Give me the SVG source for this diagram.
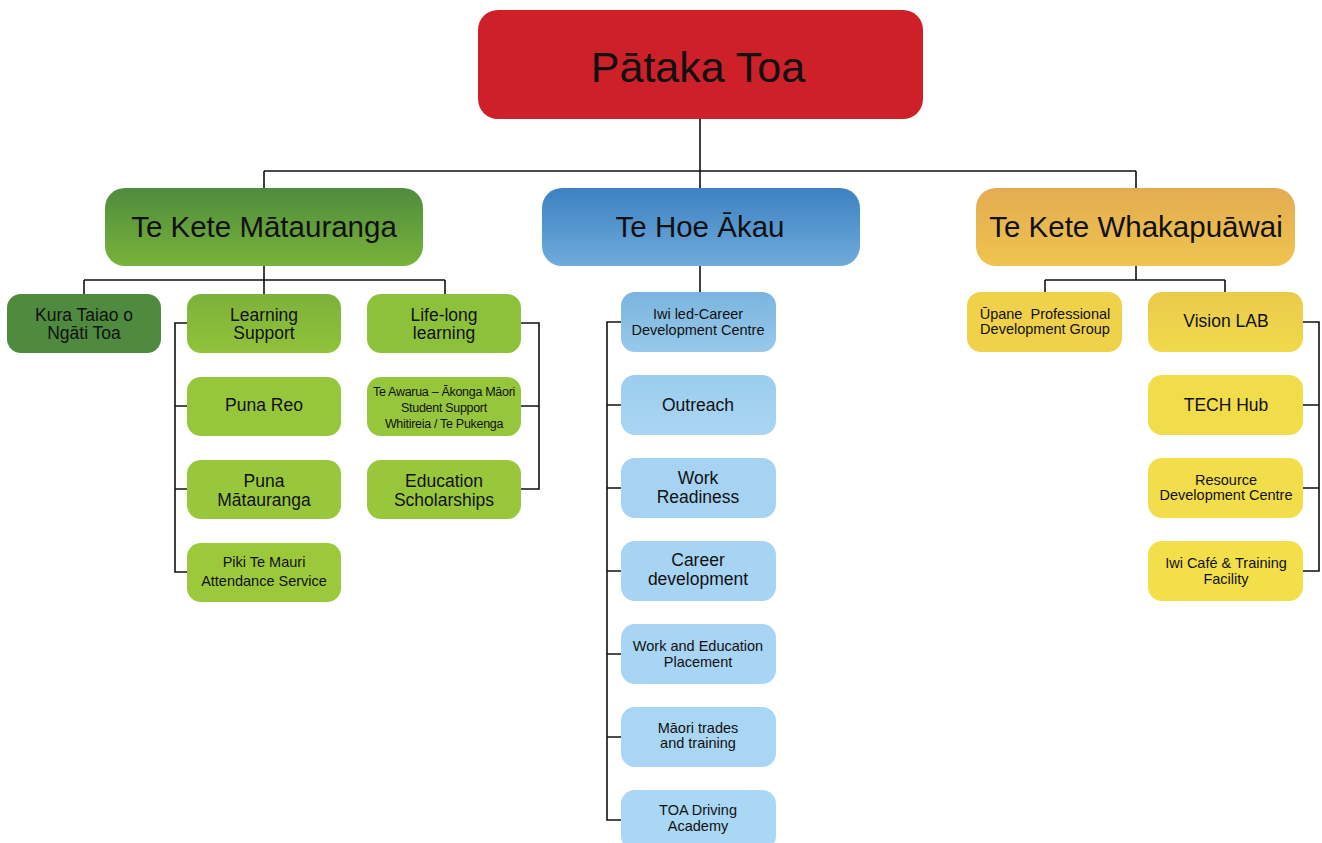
<svg xmlns="http://www.w3.org/2000/svg" width="1322" height="843" viewBox="0 0 1322 843">
<defs>
<linearGradient id="gG" x1="0" y1="0" x2="0" y2="1"><stop offset="0" stop-color="#4F8B3D"/><stop offset="1" stop-color="#79B33B"/></linearGradient>
<linearGradient id="gB" x1="0" y1="0" x2="0" y2="1"><stop offset="0" stop-color="#3C81C2"/><stop offset="1" stop-color="#70ABDB"/></linearGradient>
<linearGradient id="gO" x1="0" y1="0" x2="0" y2="1"><stop offset="0" stop-color="#E3AC52"/><stop offset="1" stop-color="#EEC44E"/></linearGradient>
<linearGradient id="gLS" x1="0" y1="0" x2="0" y2="1"><stop offset="0" stop-color="#7CB23B"/><stop offset="1" stop-color="#92C23A"/></linearGradient>
<linearGradient id="gBL" x1="0" y1="0" x2="0" y2="1"><stop offset="0" stop-color="#7AB4DF"/><stop offset="1" stop-color="#98C9EB"/></linearGradient>
<linearGradient id="gBL2" x1="0" y1="0" x2="0" y2="1"><stop offset="0" stop-color="#9CCDEE"/><stop offset="1" stop-color="#A9D6F3"/></linearGradient>
<linearGradient id="gY1" x1="0" y1="0" x2="0" y2="1"><stop offset="0" stop-color="#EACA4C"/><stop offset="1" stop-color="#F0D94A"/></linearGradient>
</defs>
<style>
text{font-family:"Liberation Sans",Arial,sans-serif;fill:#111;text-anchor:middle}
.t1{font-size:43px}
.t2{font-size:29.5px}
.t3{font-size:17.5px}
.t4{font-size:14.5px}
.t5{font-size:12.5px;letter-spacing:-0.3px}
.lk{fill:none;stroke:#111;stroke-width:1.6}
</style>
<rect width="1322" height="843" fill="#fff"/>
<g id="connectors">
<path class="lk" d="M700 119V171M264 171H1136M264 171V188M700 171V188M1136 171V188"/>
<path class="lk" d="M264 266V280M84 280H445M84 280V294M264 280V294M445 280V294"/>
<path class="lk" d="M187 323H175V572H187M175 406H187M175 489H187"/>
<path class="lk" d="M521 323H539V489H521M521 406H539"/>
<path class="lk" d="M700 266V292"/>
<path class="lk" d="M621 322H607V820H621M607 405H621M607 488H621M607 571H621M607 654H621M607 737H621"/>
<path class="lk" d="M1136 266V280M1045 280H1225M1045 280V292M1225 280V292"/>
<path class="lk" d="M1303 322H1319V571H1303M1303 405H1319M1303 488H1319"/>
</g>
<g id="root"><rect x="478" y="10" width="445" height="109" rx="20" fill="#CE2029"/><text class="t1" x="698" y="82">Pātaka Toa</text></g>
<g id="matauranga"><rect x="105" y="188" width="318" height="78" rx="20" fill="url(#gG)"/><text class="t2" x="264" y="237">Te Kete Mātauranga</text></g>
<g id="hoe"><rect x="542" y="188" width="318" height="78" rx="20" fill="url(#gB)"/><text class="t2" x="700" y="237">Te Hoe Ākau</text></g>
<g id="whakapuawai"><rect x="976" y="188" width="319" height="78" rx="20" fill="url(#gO)"/><text class="t2" x="1136" y="237">Te Kete Whakapuāwai</text></g>

<g id="kura"><rect x="7" y="294" width="154" height="59" rx="14" fill="#4F8A3E"/><text class="t3" x="84" y="321">Kura Taiao o</text><text class="t3" x="84" y="339">Ngāti Toa</text></g>
<g id="learning"><rect x="187" y="294" width="154" height="59" rx="14" fill="url(#gLS)"/><text class="t3" x="264" y="321">Learning</text><text class="t3" x="264" y="339">Support</text></g>
<g id="lifelong"><rect x="367" y="294" width="154" height="59" rx="14" fill="#8EC13B"/><text class="t3" x="444" y="321">Life-long</text><text class="t3" x="444" y="339">learning</text></g>
<g id="punareo"><rect x="187" y="377" width="154" height="59" rx="14" fill="#96C63B"/><text class="t3" x="264" y="411">Puna Reo</text></g>
<g id="awarua"><rect x="367" y="377" width="154" height="59" rx="14" fill="#96C63B"/><text class="t5" x="444" y="396">Te Awarua – Ākonga  Māori</text><text class="t5" x="444" y="412">Student Support</text><text class="t5" x="444" y="428">Whitireia / Te Pukenga</text></g>
<g id="punamatauranga"><rect x="187" y="460" width="154" height="59" rx="14" fill="#98C73B"/><text class="t3" x="264" y="487">Puna</text><text class="t3" x="264" y="506">Mātauranga</text></g>
<g id="scholarships"><rect x="367" y="460" width="154" height="59" rx="14" fill="#98C73B"/><text class="t3" x="444" y="487">Education</text><text class="t3" x="444" y="506">Scholarships</text></g>
<g id="piki"><rect x="187" y="543" width="154" height="59" rx="14" fill="#9BC93B"/><text class="t4" x="264" y="567">Piki Te Mauri</text><text class="t4" x="264" y="586">Attendance Service</text></g>

<g id="iwiled"><rect x="621" y="292" width="155" height="60" rx="14" fill="url(#gBL)"/><text class="t4" x="698" y="319">Iwi led-Career</text><text class="t4" x="698" y="335">Development Centre</text></g>
<g id="outreach"><rect x="621" y="375" width="155" height="60" rx="14" fill="url(#gBL2)"/><text class="t3" x="698" y="411">Outreach</text></g>
<g id="workready"><rect x="621" y="458" width="155" height="60" rx="14" fill="#A5D3F1"/><text class="t3" x="698" y="484">Work</text><text class="t3" x="698" y="503">Readiness</text></g>
<g id="career"><rect x="621" y="541" width="155" height="60" rx="14" fill="#A7D4F2"/><text class="t3" x="698" y="566">Career</text><text class="t3" x="698" y="585">development</text></g>
<g id="placement"><rect x="621" y="624" width="155" height="60" rx="14" fill="#A8D5F3"/><text class="t4" x="698" y="651">Work and Education</text><text class="t4" x="698" y="667">Placement</text></g>
<g id="trades"><rect x="621" y="707" width="155" height="60" rx="14" fill="#A8D6F3"/><text class="t4" x="698" y="733">Māori trades</text><text class="t4" x="698" y="748">and training</text></g>
<g id="driving"><rect x="621" y="790" width="155" height="60" rx="14" fill="#A9D7F4"/><text class="t4" x="698" y="815">TOA Driving</text><text class="t4" x="698" y="831">Academy</text></g>

<g id="upane"><rect x="967" y="292" width="155" height="60" rx="14" fill="#EFD24A"/><text class="t4" x="1045" y="319" xml:space="preserve">Ūpane  Professional</text><text class="t4" x="1045" y="334">Development Group</text></g>
<g id="visionlab"><rect x="1148" y="292" width="155" height="60" rx="14" fill="url(#gY1)"/><text class="t3" x="1226" y="327">Vision LAB</text></g>
<g id="techhub"><rect x="1148" y="375" width="155" height="60" rx="14" fill="#F1DC4A"/><text class="t3" x="1226" y="411">TECH Hub</text></g>
<g id="resource"><rect x="1148" y="458" width="155" height="60" rx="14" fill="#F1DE4A"/><text class="t4" x="1226" y="485">Resource</text><text class="t4" x="1226" y="500">Development Centre</text></g>
<g id="cafe"><rect x="1148" y="541" width="155" height="60" rx="14" fill="#F2DF4A"/><text class="t4" x="1226" y="568">Iwi Café &amp; Training</text><text class="t4" x="1226" y="584">Facility</text></g>
</svg>
